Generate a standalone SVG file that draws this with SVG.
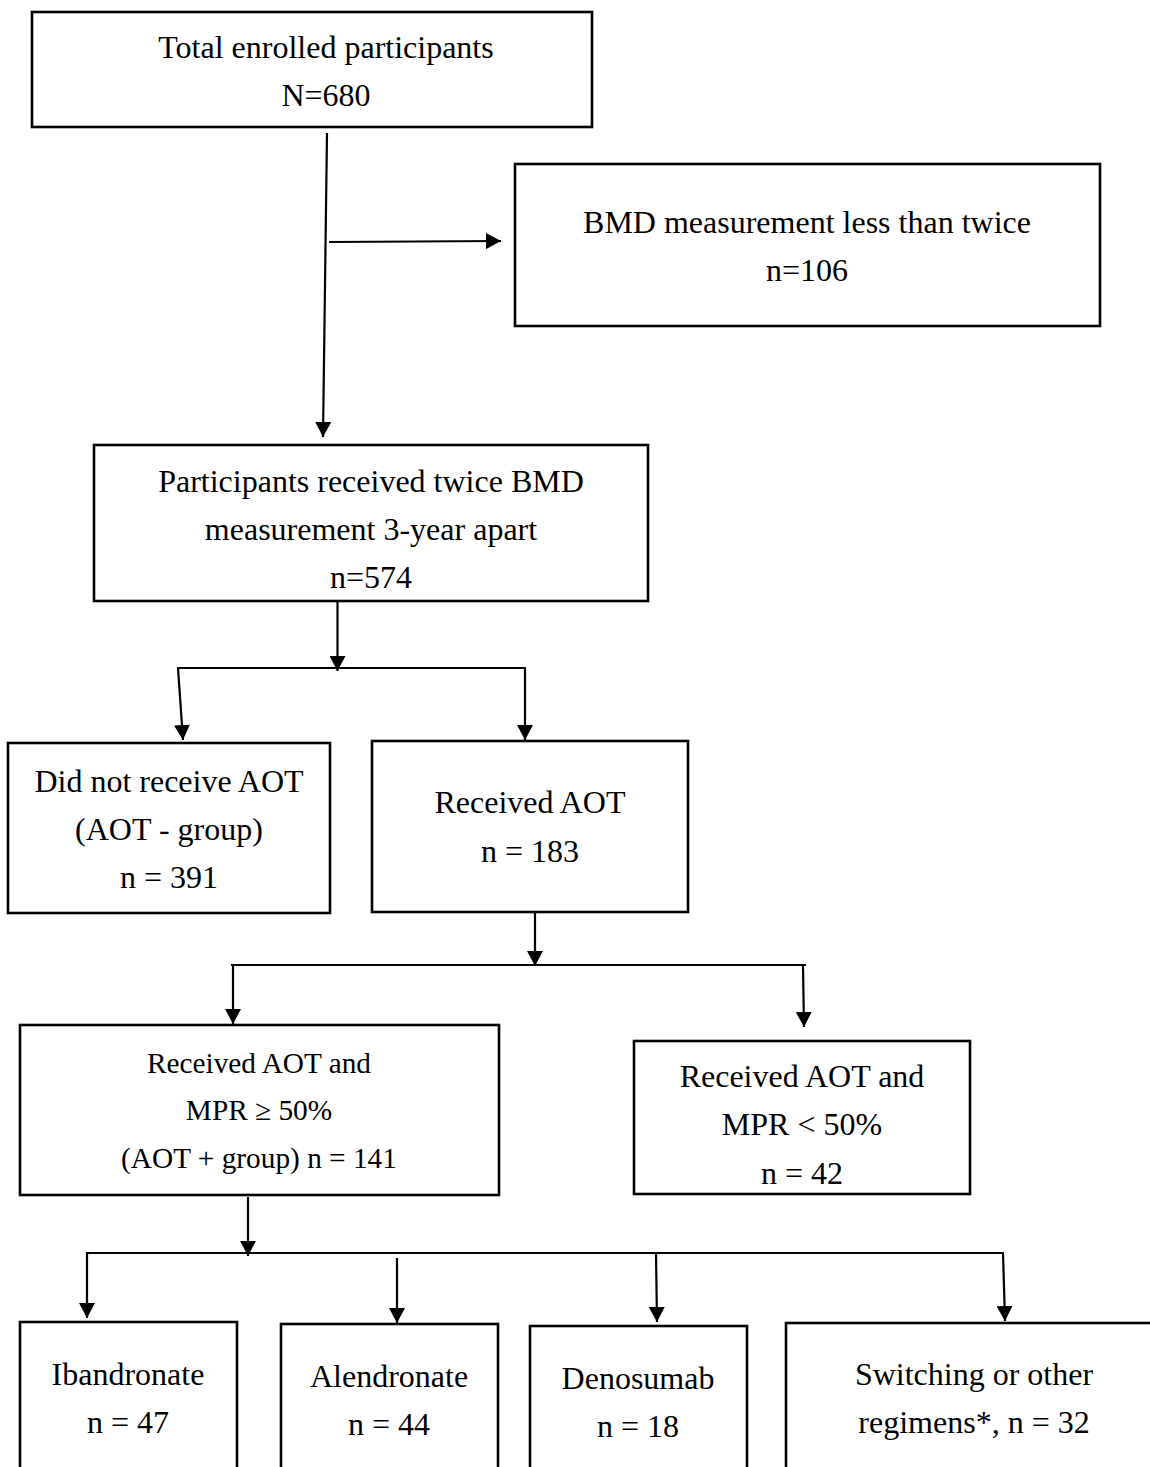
<svg xmlns="http://www.w3.org/2000/svg" width="1150" height="1467" viewBox="0 0 1150 1467">
<style>
  .box { fill: #ffffff; stroke: #000000; stroke-width: 2.6; }
  .t { font-family: "Liberation Serif", "Times New Roman", serif; font-size: 32px; fill: #000000; text-anchor: middle; }
  .ts { font-size: 29.3px; }
  .ln { fill: none; stroke: #000000; stroke-width: 2.2; }
</style>
<defs>
  <marker id="arr" viewBox="0 0 15 16" refX="15" refY="8" markerWidth="15" markerHeight="16" markerUnits="userSpaceOnUse" orient="auto">
    <path d="M0,0 L15,8 L0,16 z" fill="#000000"/>
  </marker>
</defs>
<rect width="1150" height="1467" fill="#ffffff"/>

<g id="connectors">
  <line class="ln" x1="327" y1="133" x2="323" y2="437" marker-end="url(#arr)"/>
  <line class="ln" x1="329" y1="242" x2="501" y2="241" marker-end="url(#arr)"/>
  <line class="ln" x1="337.5" y1="602" x2="337.5" y2="671" marker-end="url(#arr)"/>
  <line class="ln" x1="177" y1="668" x2="526" y2="668"/>
  <line class="ln" x1="178" y1="668" x2="183" y2="740" marker-end="url(#arr)"/>
  <line class="ln" x1="525" y1="668" x2="525" y2="740" marker-end="url(#arr)"/>
  <line class="ln" x1="535" y1="912" x2="535" y2="966" marker-end="url(#arr)"/>
  <line class="ln" x1="231" y1="965" x2="806" y2="965"/>
  <line class="ln" x1="233" y1="965" x2="233" y2="1024" marker-end="url(#arr)"/>
  <line class="ln" x1="803" y1="965" x2="804" y2="1027" marker-end="url(#arr)"/>
  <line class="ln" x1="248" y1="1197" x2="248" y2="1256" marker-end="url(#arr)"/>
  <line class="ln" x1="86" y1="1253" x2="1004" y2="1253"/>
  <line class="ln" x1="87" y1="1253" x2="87" y2="1318" marker-end="url(#arr)"/>
  <line class="ln" x1="397" y1="1258" x2="397" y2="1323" marker-end="url(#arr)"/>
  <line class="ln" x1="656" y1="1253" x2="657" y2="1322" marker-end="url(#arr)"/>
  <line class="ln" x1="1003" y1="1253" x2="1005" y2="1321" marker-end="url(#arr)"/>
</g>

<g id="n-total">
  <rect class="box" x="32" y="12" width="560" height="115"/>
  <text class="t" x="326" y="58">Total enrolled participants</text>
  <text class="t" x="326" y="106">N=680</text>
</g>

<g id="n-excluded">
  <rect class="box" x="515" y="164" width="585" height="162"/>
  <text class="t" x="807" y="233">BMD measurement less than twice</text>
  <text class="t" x="807" y="281">n=106</text>
</g>

<g id="n-twice">
  <rect class="box" x="94" y="445" width="554" height="156"/>
  <text class="t" x="371" y="492">Participants received twice BMD</text>
  <text class="t" x="371" y="540">measurement 3-year apart</text>
  <text class="t" x="371" y="588">n=574</text>
</g>

<g id="n-noaot">
  <rect class="box" x="8" y="743" width="322" height="170"/>
  <text class="t" x="169" y="792">Did not receive AOT</text>
  <text class="t" x="169" y="840">(AOT - group)</text>
  <text class="t" x="169" y="888">n = 391</text>
</g>

<g id="n-aot">
  <rect class="box" x="372" y="741" width="316" height="171"/>
  <text class="t" x="530" y="813">Received AOT</text>
  <text class="t" x="530" y="862">n = 183</text>
</g>

<g id="n-mpr-high">
  <rect class="box" x="20" y="1025" width="479" height="170"/>
  <text class="t ts" x="259" y="1073">Received AOT and</text>
  <text class="t ts" x="259" y="1120">MPR ≥ 50%</text>
  <text class="t ts" x="259" y="1168">(AOT + group) n = 141</text>
</g>

<g id="n-mpr-low">
  <rect class="box" x="634" y="1041" width="336" height="153"/>
  <text class="t" x="802" y="1087">Received AOT and</text>
  <text class="t" x="802" y="1135">MPR &lt; 50%</text>
  <text class="t" x="802" y="1184">n = 42</text>
</g>

<g id="n-ibandronate">
  <rect class="box" x="20" y="1322" width="217" height="170"/>
  <text class="t" x="128" y="1385">Ibandronate</text>
  <text class="t" x="128" y="1433">n = 47</text>
</g>

<g id="n-alendronate">
  <rect class="box" x="281" y="1324" width="217" height="170"/>
  <text class="t" x="389" y="1387">Alendronate</text>
  <text class="t" x="389" y="1435">n = 44</text>
</g>

<g id="n-denosumab">
  <rect class="box" x="530" y="1326" width="217" height="170"/>
  <text class="t" x="638" y="1389">Denosumab</text>
  <text class="t" x="638" y="1437">n = 18</text>
</g>

<g id="n-switching">
  <rect class="box" x="786" y="1323" width="380" height="170"/>
  <text class="t" x="974" y="1385">Switching or other</text>
  <text class="t" x="974" y="1433">regimens*, n = 32</text>
</g>
</svg>
